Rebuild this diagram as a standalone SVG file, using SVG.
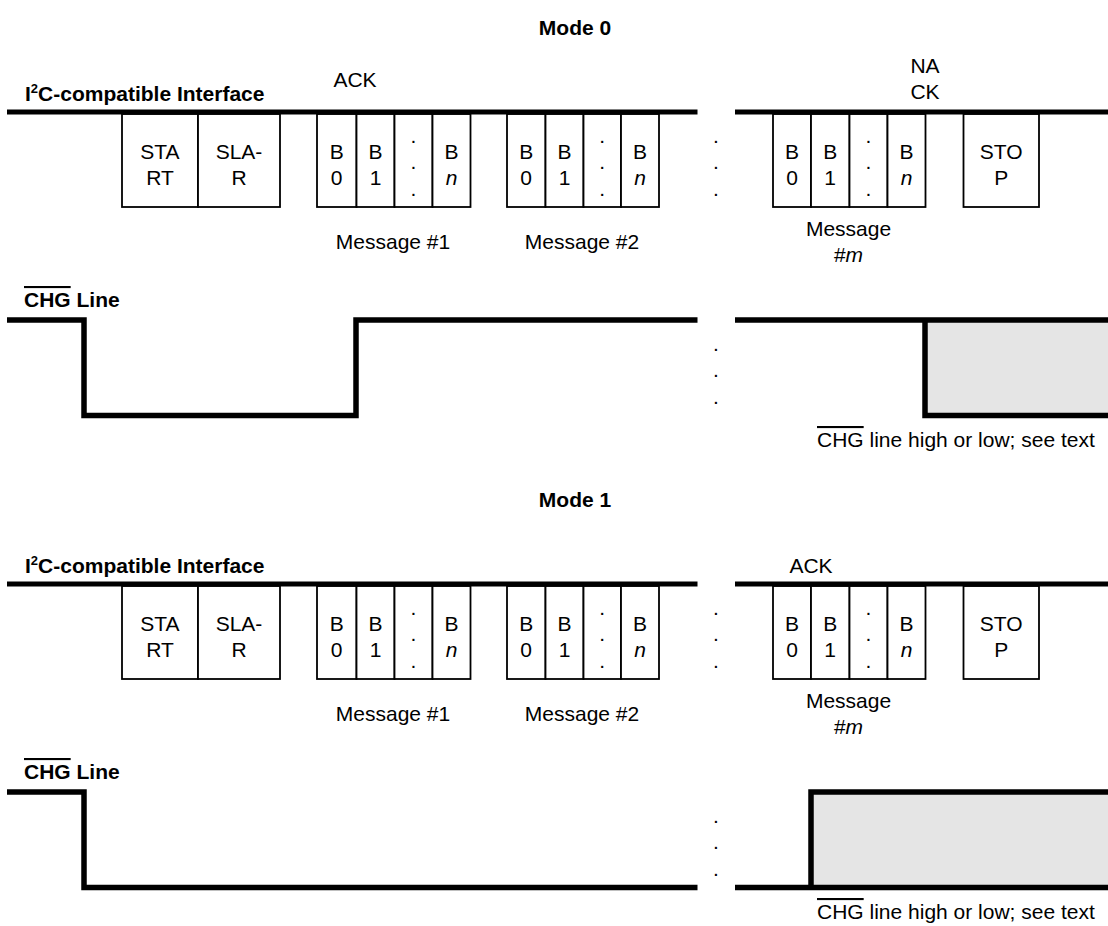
<svg xmlns="http://www.w3.org/2000/svg" width="1108" height="926" viewBox="0 0 1108 926">
<style>
.t{font-family:"Liberation Sans",Arial,Helvetica,sans-serif;font-size:21px;fill:#000;text-anchor:middle}
.l{text-anchor:start}
.b{font-weight:bold}
.i{font-style:italic}
.ov{text-decoration:overline}
.box{fill:#fff;stroke:#000;stroke-width:1.8}
.bus{stroke:#000;stroke-width:5;fill:none}
.wave{stroke:#000;stroke-width:5.5;fill:none;stroke-linejoin:miter;stroke-linecap:butt}
.gray{fill:#e5e5e5}
</style>
<defs>
<g id="dots"><text class="t" x="0" y="143">.</text><text class="t" x="0" y="169">.</text><text class="t" x="0" y="196">.</text></g>
<g id="frame">
<g id="box-start"><rect class="box" x="122" y="114" width="76" height="93"/><text class="t" x="160" y="159">STA</text><text class="t" x="160" y="185">RT</text></g>
<g id="box-sla"><rect class="box" x="198" y="114" width="82" height="93"/><text class="t" x="239" y="159">SLA-</text><text class="t" x="239" y="185">R</text></g>
<g id="msg1">
<rect class="box" x="317" y="114" width="39.5" height="93"/><text class="t" x="336.7" y="159">B</text><text class="t" x="336.7" y="185">0</text>
<rect class="box" x="356.5" y="114" width="38" height="93"/><text class="t" x="375.5" y="159">B</text><text class="t" x="375.5" y="185">1</text>
<rect class="box" x="394.5" y="114" width="38" height="93"/><use href="#dots" x="413.5"/>
<rect class="box" x="432.5" y="114" width="38" height="93"/><text class="t" x="451.5" y="159">B</text><text class="t i" x="451.5" y="185">n</text>
</g>
<g id="msg2">
<rect class="box" x="507" y="114" width="38.5" height="93"/><text class="t" x="526.2" y="159">B</text><text class="t" x="526.2" y="185">0</text>
<rect class="box" x="545.5" y="114" width="38" height="93"/><text class="t" x="564.5" y="159">B</text><text class="t" x="564.5" y="185">1</text>
<rect class="box" x="583.5" y="114" width="37.5" height="93"/><use href="#dots" x="602.2"/>
<rect class="box" x="621" y="114" width="38" height="93"/><text class="t" x="640" y="159">B</text><text class="t i" x="640" y="185">n</text>
</g>
<use href="#dots" x="716"/>
<g id="msgm">
<rect class="box" x="773" y="114" width="38" height="93"/><text class="t" x="792" y="159">B</text><text class="t" x="792" y="185">0</text>
<rect class="box" x="811" y="114" width="38.5" height="93"/><text class="t" x="830.2" y="159">B</text><text class="t" x="830.2" y="185">1</text>
<rect class="box" x="849.5" y="114" width="38" height="93"/><use href="#dots" x="868.5"/>
<rect class="box" x="887.5" y="114" width="38" height="93"/><text class="t" x="906.5" y="159">B</text><text class="t i" x="906.5" y="185">n</text>
</g>
<g id="box-stop"><rect class="box" x="963.5" y="114" width="75.5" height="93"/><text class="t" x="1001.2" y="159">STO</text><text class="t" x="1001.2" y="185">P</text></g>
<g id="bus-lines"><path class="bus" d="M7,112 H697.5 M735,112 H1108"/></g>
<text class="t l b" x="25" y="101">I<tspan font-size="13" dy="-8">2</tspan><tspan dy="8">C-compatible Interface</tspan></text>
<text class="t" x="393" y="249">Message #1</text>
<text class="t" x="582" y="249">Message #2</text>
<text class="t" x="848.5" y="236">Message</text>
<text class="t" x="848.5" y="262">#<tspan class="i">m</tspan></text>
<text class="t l b" x="24" y="307"><tspan class="ov">CHG</tspan> Line</text>
<use href="#dots" x="716" y="208"/>
<text class="t l" x="817" y="447"><tspan class="ov">CHG</tspan> line high or low; see text</text>
</g>
</defs>

<g id="mode0">
<text class="t b" x="575" y="35">Mode 0</text>
<use href="#frame"/>
<text class="t" x="355" y="87">ACK</text>
<text class="t" x="925" y="73">NA</text>
<text class="t" x="925" y="99">CK</text>
<g id="chg0">
<rect class="gray" x="925" y="320" width="183" height="95.5"/>
<path class="wave" d="M7,320 H84 V415.5 H356 V320 H697.5 M735,320 H1108 M925,320 V415.5 H1108"/>
</g>
</g>

<g id="mode1" transform="translate(0,472)">
<text class="t b" x="575" y="35">Mode 1</text>
<use href="#frame"/>
<text class="t" x="811" y="101">ACK</text>
<g id="chg1">
<rect class="gray" x="811" y="320" width="297" height="95.5"/>
<path class="wave" d="M7,320 H84 V415.5 H697.5 M735,415.5 H1108 M811,415.5 V320 H1108"/>
</g>
</g>
</svg>
